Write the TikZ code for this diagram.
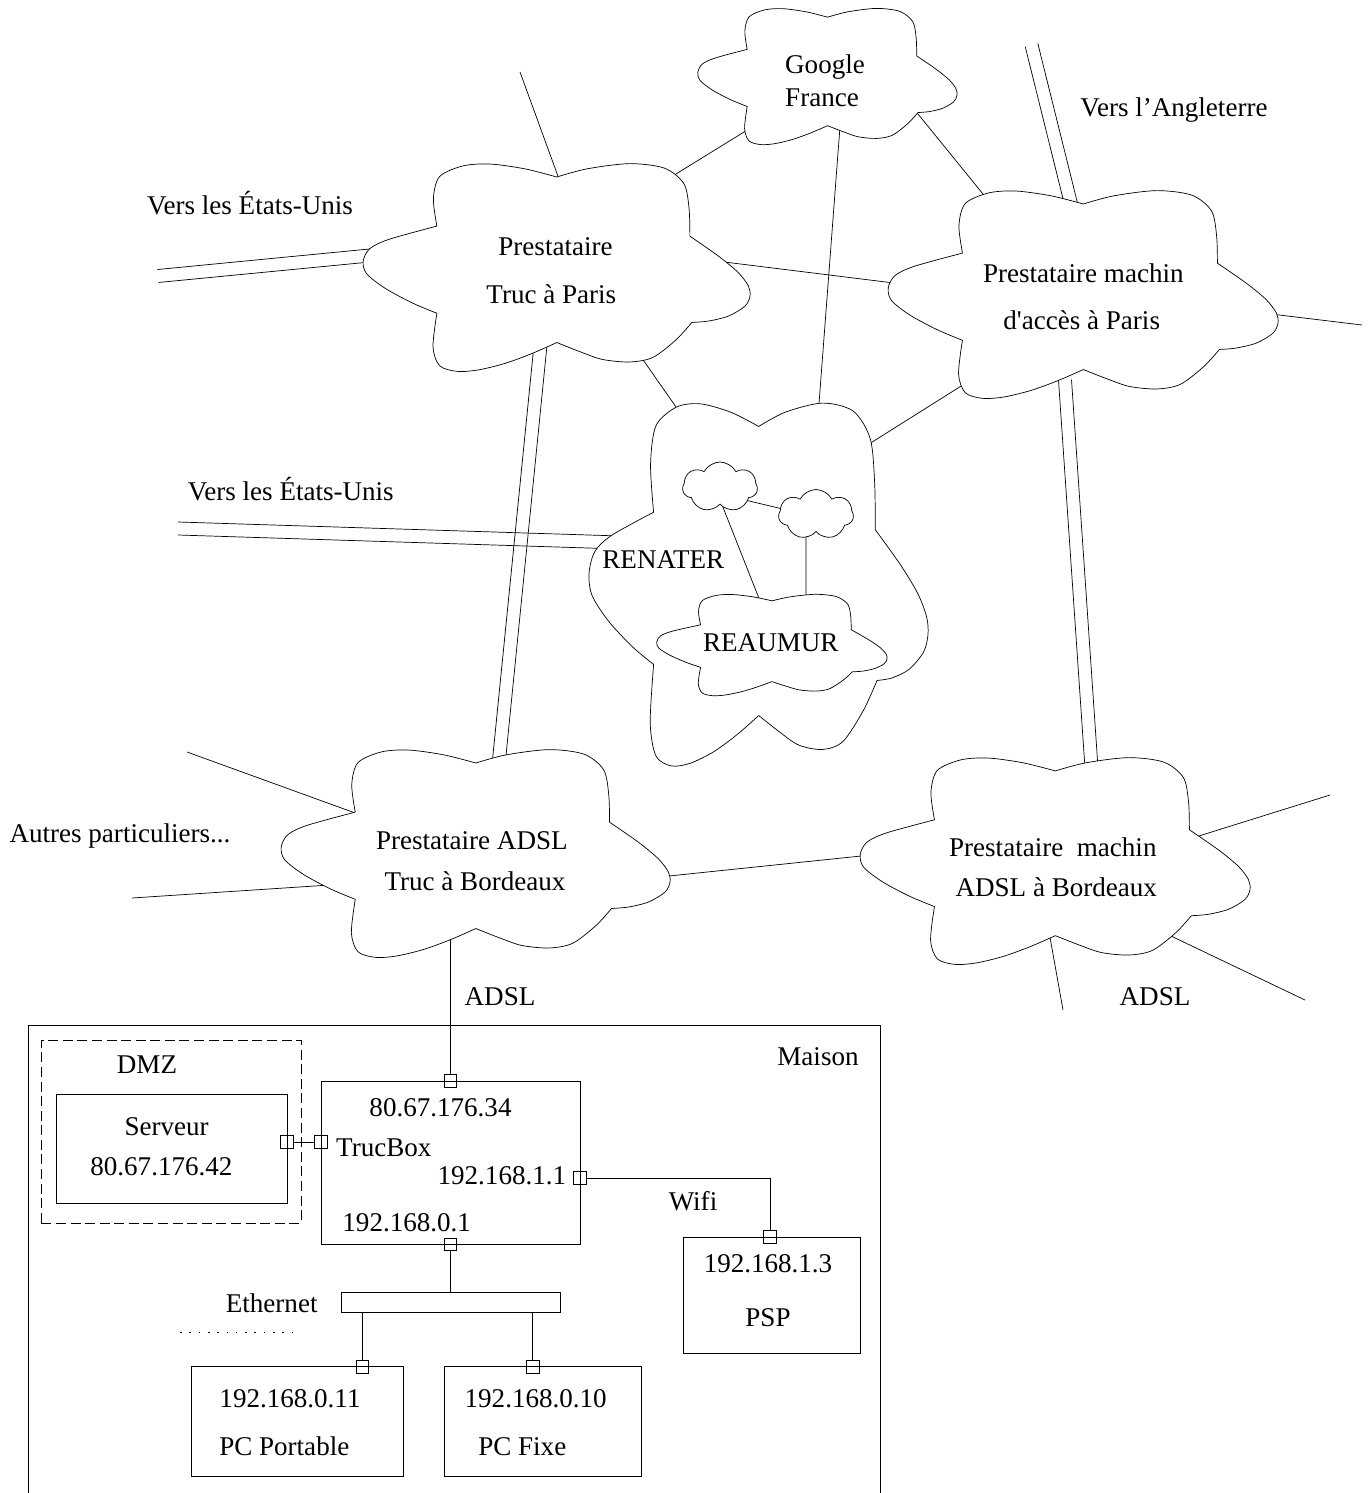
\documentclass[tikz,border=0pt]{standalone}
\usepackage{fontspec}
\setmainfont{Liberation Serif}
\usetikzlibrary{calc,shapes.symbols}
\pgfdeclarelayer{bg}
\pgfdeclarelayer{inner}
\pgfdeclarelayer{top}
\pgfsetlayers{bg,main,inner,top}

% six-lobed cloud outline in a unit box (u to the right, v downwards)
\newcommand\cloudoutline{%
  plot[smooth] coordinates {(0.193,0.302) (0.184,0.17) (0.2,0.065) (0.26,0.014) (0.33,0.005) (0.42,0.028) (0.502,0.067)}
  -- plot[smooth] coordinates {(0.502,0.067) (0.58,0.028) (0.69,0.003) (0.78,0.025) (0.83,0.1) (0.843,0.22) (0.845,0.35)}
  -- plot[smooth] coordinates {(0.845,0.35) (0.919,0.446) (0.97,0.525) (0.996,0.589) (1.0,0.637) (0.987,0.685) (0.945,0.732) (0.894,0.756) (0.85,0.763)}
  -- plot[smooth] coordinates {(0.85,0.763) (0.81,0.845) (0.75,0.93) (0.69,0.952) (0.62,0.94) (0.562,0.903) (0.502,0.859)}
  -- plot[smooth] coordinates {(0.502,0.859) (0.44,0.91) (0.37,0.958) (0.3,0.99) (0.245,0.997) (0.2,0.97) (0.183,0.88) (0.193,0.719)}
  -- plot[smooth] coordinates {(0.193,0.719) (0.13,0.67) (0.06,0.6) (0.012,0.53) (0.003,0.47) (0.02,0.41) (0.07,0.365) (0.193,0.302)}
  -- cycle}

% invisible node that holds the place of a cloud: name, centre x, centre y, width, height
\newcommand\cloudspot[5]{\node[spot, minimum width=#4*0.02cm, minimum height=#5*0.02cm] (#1) at (#2,#3) {};}
% draws the cloud outline over the place of a node: name, width, height
\newcommand\cloudat[3]{%
  \begin{scope}[shift={(#1.north west)},xscale=#2,yscale=#3]
    \filldraw[cloudedge] \cloudoutline;
  \end{scope}}
% two parallel lines between two coordinates
\newcommand\twingap{3.7pt}
\newcommand\twin[2]{%
  \draw ($(#1)!\twingap!90:(#2)$) -- ($(#2)!\twingap!-90:(#1)$);
  \draw ($(#1)!\twingap!-90:(#2)$) -- ($(#2)!\twingap!90:(#1)$);}

\begin{document}
\begin{tikzpicture}[x=0.02cm, y=-0.02cm, line width=0.65pt,
  spot/.style={inner sep=0, outer sep=0},
  cloudedge/.style={draw, fill=white, line join=round},
  lbl/.style={inner sep=0, anchor=base, font=\fontsize{15.4}{18}\selectfont},
  box/.style={draw, inner sep=0, outer sep=0, anchor=north west},
  port/.style={draw, inner sep=0, outer sep=0, minimum size=0.25cm},
  smallcloud/.style={cloud, cloud puffs=7, cloud puff arc=125, cloud ignores aspect,
    draw, fill=white, inner sep=0, minimum width=1.5cm, minimum height=1cm}]

\begin{pgfonlayer}{bg}
  \fill[white] (0,0) rectangle (1369,1493);
\end{pgfonlayer}
\useasboundingbox (0,0) rectangle (1369,1493);

% places of the clouds
\cloudspot{google}{827}{76.5}{260}{137}
\cloudspot{paris}{556}{267.5}{388}{209}
\cloudspot{machinp}{1082.5}{294.5}{391}{209}
\cloudspot{renater}{758}{584.5}{340}{365}
\cloudspot{reaumur}{771.5}{645}{231}{102}
\cloudspot{bordeaux}{475}{853.5}{390}{209}
\cloudspot{machinb}{1054.5}{861}{391}{208}

% the home network
\draw (28,1025) rectangle (880,1510);
\node[box, dash pattern=on 5.7pt off 2.6pt, minimum width=259.6*0.02cm, minimum height=183*0.02cm] (dmz) at (41.4,1040) {};
\node[box, minimum width=231.1*0.02cm, minimum height=109*0.02cm] (serveur) at (55.9,1094) {};
\node[box, minimum width=259*0.02cm, minimum height=163.5*0.02cm] (trucbox) at (321,1081) {};
\node[box, minimum width=177*0.02cm, minimum height=116*0.02cm] (psp) at (683,1237) {};
\node[box, minimum width=218.3*0.02cm, minimum height=20*0.02cm] (eth) at (341.7,1292.3) {};
\node[box, minimum width=211.6*0.02cm, minimum height=109.3*0.02cm] (pc1) at (191.7,1366.7) {};
\node[box, minimum width=197.7*0.02cm, minimum height=109.3*0.02cm] (pc2) at (444,1366.7) {};

% network ports
\node[port] (pt-adsl) at (450.5,1081) {};
\node[port] (pt-srv) at (287,1142) {};
\node[port] (pt-boxl) at (321,1142) {};
\node[port] (pt-boxr) at (580,1178) {};
\node[port] (pt-psp) at (770,1237) {};
\node[port] (pt-boxb) at (450.5,1244.5) {};
\node[port] (pt-pc1) at (362.5,1367) {};
\node[port] (pt-pc2) at (532.7,1367) {};

% loose ends of the links
\coordinate (us1) at (158,276);
\coordinate (us2) at (178,528.5);
\coordinate (uk) at (1031.5,45);
\coordinate (nw) at (520,72);
\coordinate (east) at (1362,325);
\coordinate (part1) at (187,752);
\coordinate (part2) at (132,898);
\coordinate (sb1) at (1330,795);
\coordinate (sb2) at (1305,1000);
\coordinate (sb3) at (1063,1010);

% ends of the double links inside the clouds
\coordinate (us1-in) at ($(paris)+(-150,-15.5)$);
\coordinate (us2-in) at ($(renater)+(-138,-42)$);
\coordinate (uk-in) at ($(machinp)+(-7.5,-74.5)$);
\coordinate (pb-a) at ($(paris)+(-13,52.5)$);
\coordinate (pb-b) at ($(bordeaux)+(21,-63.5)$);
\coordinate (mm-a) at ($(machinp)+(-17.5,85.5)$);
\coordinate (mm-b) at ($(machinb)+(38.5,-71)$);

% links between the clouds, hidden inside them by the cloud fill
\begin{pgfonlayer}{bg}
  \draw (nw) -- ($(paris)+(9,-72)$);
  \twin{us1}{us1-in}
  \draw ($(paris)+(94,-77.5)$) -- ($(google)+(-57,39.5)$);
  \draw ($(google)+(78,21.5)$) -- ($(machinp)+(-82.5,-79.5)$);
  \draw ($(google)+(15,23.5)$) -- ($(renater)+(59,-154.5)$);
  \draw ($(paris)+(144,-8.5)$) -- ($(machinp)+(-172.5,-9.5)$);
  \draw ($(paris)+(69,66.5)$) -- ($(renater)+(-68,-157.5)$);
  \draw ($(machinp)+(-97.5,76.5)$) -- ($(renater)+(92,-128.5)$);
  \twin{pb-a}{pb-b}
  \twin{mm-a}{mm-b}
  \twin{uk}{uk-in}
  \draw ($(machinp)+(167.5,17)$) -- (east);
  \twin{us2}{us2-in}
  \draw (part1) -- ($(bordeaux)+(-95,-31.5)$);
  \draw (part2) -- ($(bordeaux)+(-115,29.5)$);
  \draw ($(bordeaux)+(165,25.5)$) -- ($(machinb)+(-164.5,-8)$);
  \draw ($(machinb)+(115.5,-16)$) -- (sb1);
  \draw ($(machinb)+(95.5,65)$) -- (sb2);
  \draw ($(machinb)+(-8.5,54)$) -- (sb3);
  \draw (pt-adsl) -- (pt-adsl |- bordeaux);
\end{pgfonlayer}

% the clouds
\cloudat{google}{260}{137}
\cloudat{paris}{388}{209}
\cloudat{machinp}{391}{209}
\cloudat{renater}{340}{365}
\cloudat{bordeaux}{390}{209}
\cloudat{machinb}{391}{208}

% inside RENATER
\begin{pgfonlayer}{top}
  \node[smallcloud] (s1) at (720,487) {};
  \node[smallcloud] (s2) at (816,514.5) {};
  \cloudat{reaumur}{231}{102}
  \node[lbl] (t-reaumur) at (770.8,651) {REAUMUR};
\end{pgfonlayer}
\begin{pgfonlayer}{inner}
  \draw ($(s1)+(0,7)$) -- ($(s2)+(0,2.5)$);
  \draw ($(s1)+(-5,0)$) -- ($(reaumur)+(-4,-25)$);
  \draw ($(s2)+(-10,0)$) -- ($(reaumur)+(34.5,-20)$);
\end{pgfonlayer}

% texts of the clouds and of the links
\node[lbl] (t-google1) at (825,73.3) {Google};
\node[lbl] (t-google2) at (822,106.7) {France};
\node[lbl] (t-uk) at (1174,117) {Vers l’Angleterre};
\node[lbl] (t-us1) at (250,215) {Vers les États-Unis};
\node[lbl] (t-paris1) at (555.5,256) {Prestataire};
\node[lbl] (t-paris2) at (551.3,303.3) {Truc à Paris};
\node[lbl] (t-machinp1) at (1083.3,282.7) {Prestataire machin};
\node[lbl] (t-machinp2) at (1081.7,330) {d\textquotesingle accès à Paris};
\node[lbl] (t-us2) at (290.8,500) {Vers les États-Unis};
\node[lbl] (t-renater) at (663.3,568.3) {RENATER};
\node[lbl] (t-autres) at (120,842) {Autres particuliers...};
\node[lbl] (t-bdx1) at (471.8,849) {Prestataire ADSL};
\node[lbl] (t-bdx2) at (475,890) {Truc à Bordeaux};
\node[lbl] (t-machinb1) at (1052.8,856.7) {Prestataire~~machin};
\node[lbl] (t-machinb2) at (1056.3,896.7) {ADSL à Bordeaux};
\node[lbl] (t-adsl1) at (500,1005) {ADSL};
\node[lbl] (t-adsl2) at (1155,1005) {ADSL};

% links of the home network
\draw (pt-srv) -- (pt-boxl);
\draw (pt-boxr) -| (pt-psp);
\draw (pt-boxb) -- (pt-boxb |- eth.north);
\draw (pt-pc1) -- (pt-pc1 |- eth.south);
\draw (pt-pc2) -- (pt-pc2 |- eth.south);
\draw[line width=0.9pt, dash pattern=on 0.9pt off 4.4pt] (180,1332.3) -- (292,1332.3);

% texts of the home network
\node[lbl] (t-maison) at (818,1065) {Maison};
\node[lbl] (t-dmz) at (147,1073.3) {DMZ};
\node[lbl] (t-serveur) at (166.6,1135) {Serveur};
\node[lbl] (t-ipsrv) at (161.4,1175.7) {80.67.176.42};
\node[lbl] (t-ipwan) at (440.5,1116) {80.67.176.34};
\node[lbl] (t-trucbox) at (383.8,1156) {TrucBox};
\node[lbl] (t-ipwifi) at (501.9,1184) {192.168.1.1};
\node[lbl] (t-iplan) at (406.7,1231) {192.168.0.1};
\node[lbl] (t-wifi) at (693,1210) {Wifi};
\node[lbl] (t-ippsp) at (768,1272) {192.168.1.3};
\node[lbl] (t-psp) at (768,1326) {PSP};
\node[lbl] (t-eth) at (271.7,1312.7) {Ethernet};
\node[lbl] (t-ippc1) at (290,1407.7) {192.168.0.11};
\node[lbl] (t-pc1) at (284.3,1455) {PC Portable};
\node[lbl] (t-ippc2) at (535.7,1407.7) {192.168.0.10};
\node[lbl] (t-pc2) at (522.3,1455) {PC Fixe};
\end{tikzpicture}
\end{document}
